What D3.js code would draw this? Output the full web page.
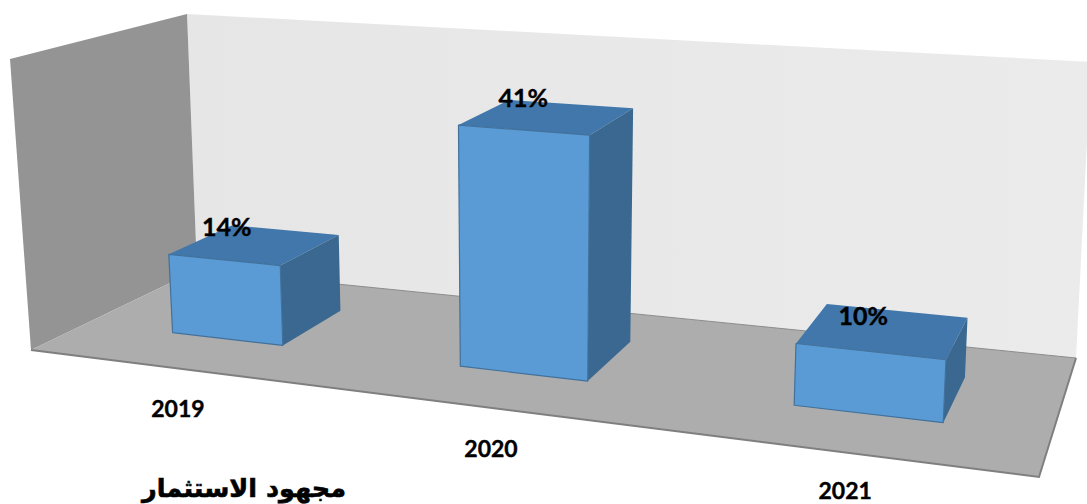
<!DOCTYPE html>
<html>
<head>
<meta charset="utf-8">
<script src="https://cdn.jsdelivr.net/npm/d3@7"></script>
<style>
	html, body { margin: 0; padding: 0; background: #fff; overflow: hidden; }
	text { font-family: Lato, "Open Sans", sans-serif; font-weight: bold; fill: #000; stroke: #000; stroke-width: 0.4px; }
</style>
</head>
<body>
<svg id="chart" width="1087" height="504"></svg>
<script>
var categories = ["2019", "2020", "2021"];
var values = [14, 41, 10];
var valueLabels = ["14%", "41%", "10%"];
var chartTitle = "مجهود الاستثمار";
var AXIS_MAX = 51;

// corners of the box on screen: front-left, front-right, back-right, back-left
var floorQuad = [[31, 350], [1039, 477], [1076, 358], [197, 270]];
var roofQuad = [[10, 59], [1057, 139], [1091, 62], [187, 14]];

// hand placed labels, offset from the back edge of each bar top
var labelNudge = [[-58, -3], [-47, -6], [-33, 6]];
// category labels, offset from the front edge of the floor
var catNudge = [[3, 41], [8, 42], [1, 38]];

// unit square -> quad
var makeProjection = function(q) {
	var dx1 = q[1][0] - q[2][0], dx2 = q[3][0] - q[2][0];
	var dy1 = q[1][1] - q[2][1], dy2 = q[3][1] - q[2][1];
	var sx = q[0][0] - q[1][0] + q[2][0] - q[3][0];
	var sy = q[0][1] - q[1][1] + q[2][1] - q[3][1];
	var den = dx1 * dy2 - dx2 * dy1;
	var g = (sx * dy2 - dx2 * sy) / den;
	var h = (dx1 * sy - sx * dy1) / den;
	return function(u, v) {
		var w = g * u + h * v + 1;
		return [
			((q[1][0] - q[0][0] + g * q[1][0]) * u + (q[3][0] - q[0][0] + h * q[3][0]) * v + q[0][0]) / w,
			((q[1][1] - q[0][1] + g * q[1][1]) * u + (q[3][1] - q[0][1] + h * q[3][1]) * v + q[0][1]) / w
		];
	};
};

var floorAt = makeProjection(floorQuad);

// how far a point rises from the floor to the roof, blended from the four corners
var riseAt = function(u, v, k) {
	var front = (roofQuad[0][k] - floorQuad[0][k]) * (1 - u) + (roofQuad[1][k] - floorQuad[1][k]) * u;
	var back = (roofQuad[3][k] - floorQuad[3][k]) * (1 - u) + (roofQuad[2][k] - floorQuad[2][k]) * u;
	return front * (1 - v) + back * v;
};

var xScale = d3.scaleBand().domain(categories).range([0.008, 1.008]).paddingInner(0.6).paddingOuter(0.3);
var yScale = d3.scaleLinear().domain([0, AXIS_MAX]).range([0, 1]);
var depthScale = d3.scaleLinear().domain([0, 1]).range([0.31, 0.71]);

// u along the categories, d through the bar depth, val the height in data units
var project = function(u, d, val) {
	var v = depthScale(d);
	var a = floorAt(u, v), t = yScale(val);
	return [a[0] + riseAt(u, v, 0) * t, a[1] + riseAt(u, v, 1) * t];
};

var poly = d3.line().curve(d3.curveLinearClosed);
var svg = d3.select("#chart");

var wallFill = svg.append("defs").append("linearGradient").attr("id", "wallFill");
wallFill.append("stop").attr("offset", "0%").attr("stop-color", "#e6e6e6");
wallFill.append("stop").attr("offset", "100%").attr("stop-color", "#ebebeb");

// walls and floor
svg.append("path")
	.attr("d", poly([roofQuad[3], roofQuad[2], floorQuad[2], floorQuad[3]]))
	.attr("fill", "url(#wallFill)");
svg.append("path")
	.attr("d", poly([roofQuad[0], roofQuad[3], floorQuad[3], floorQuad[0]]))
	.attr("fill", "#949494");
svg.append("path")
	.attr("d", poly(floorQuad))
	.attr("fill", "#adadad");
svg.append("path")
	.attr("d", d3.line()([floorQuad[0], floorQuad[1], floorQuad[2]]))
	.attr("fill", "none")
	.attr("stroke", "#7f7f7f")
	.attr("stroke-width", 2);
svg.append("path")
	.attr("d", d3.line()([floorQuad[3], floorQuad[2]]))
	.attr("fill", "none")
	.attr("stroke", "#8c8c8c")
	.attr("stroke-width", 1);

var barData = categories.map(function(c, i) {
	return { cat: c, value: values[i], label: valueLabels[i], nudge: labelNudge[i] };
});

var bars = svg.selectAll("g.bar").data(barData).enter()
	.append("g")
	.classed("bar", true);

var u0 = function(d) { return xScale(d.cat); };
var u1 = function(d) { return xScale(d.cat) + xScale.bandwidth(); };

// top
bars.append("path")
	.attr("d", function(d) {
		return poly([project(u0(d), 0, d.value), project(u1(d), 0, d.value), project(u1(d), 1, d.value), project(u0(d), 1, d.value)]);
	})
	.attr("fill", "#4177aa");
// side
bars.append("path")
	.attr("d", function(d) {
		return poly([project(u1(d), 0, d.value), project(u1(d), 1, d.value), project(u1(d), 1, 0), project(u1(d), 0, 0)]);
	})
	.attr("fill", "#3a6890");
// front
bars.append("path")
	.attr("d", function(d) {
		return poly([project(u0(d), 0, d.value), project(u1(d), 0, d.value), project(u1(d), 0, 0), project(u0(d), 0, 0)]);
	})
	.attr("fill", "#5b9bd5")
	.attr("stroke", "#41719c")
	.attr("stroke-width", 1.2)
	.attr("stroke-linejoin", "round");

// value labels
bars.append("text")
	.text(function(d) { return d.label; })
	.attr("text-anchor", "middle")
	.attr("font-size", 25)
	.attr("dy", "0.35em")
	.attr("x", function(d) { return project((u0(d) + u1(d)) / 2, 1, d.value)[0] + d.nudge[0]; })
	.attr("y", function(d) { return project((u0(d) + u1(d)) / 2, 1, d.value)[1] + d.nudge[1]; });

// category labels
svg.selectAll("text.cat").data(categories).enter()
	.append("text")
	.classed("cat", true)
	.text(function(d) { return d; })
	.attr("text-anchor", "middle")
	.attr("font-size", 23)
	.attr("dy", "0.35em")
	.attr("x", function(d, i) { return floorAt(xScale(d) + xScale.bandwidth() / 2, 0)[0] + catNudge[i][0]; })
	.attr("y", function(d, i) { return floorAt(xScale(d) + xScale.bandwidth() / 2, 0)[1] + catNudge[i][1]; });

svg.append("text")
	.text(chartTitle)
	.attr("direction", "rtl")
	.attr("text-anchor", "middle")
	.attr("x", 244)
	.attr("y", 497)
	.style("font-family", "'DejaVu Sans', sans-serif")
	.style("stroke-width", "0.6px")
	.attr("font-size", 25.5);
</script>
</body>
</html>
